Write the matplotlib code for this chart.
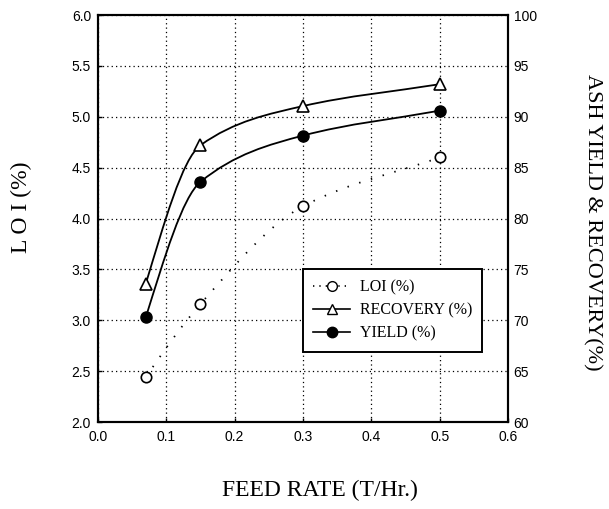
import numpy as np
import matplotlib
matplotlib.use("Agg")
import matplotlib.pyplot as plt
from matplotlib.path import Path
from matplotlib.patches import PathPatch
from matplotlib.lines import Line2D


# =========================================================
# DATA
# =========================================================
feed_rate = [0.07, 0.15, 0.30, 0.50]          # T/Hr.
loi = [2.44, 3.16, 4.12, 4.60]                # %, left axis
recovery = [73.6, 87.2, 91.05, 93.2]          # %, right axis
yield_ = [70.3, 83.6, 88.15, 90.6]            # %, right axis

x_ticks = [0.0, 0.1, 0.2, 0.3, 0.4, 0.5, 0.6]
loi_ticks = [2.0, 2.5, 3.0, 3.5, 4.0, 4.5, 5.0, 5.5, 6.0]
ash_ticks = [60, 65, 70, 75, 80, 85, 90, 95, 100]

SANS = "Liberation Sans"
SERIF = "Liberation Serif"


# =========================================================
# HELPERS
# =========================================================
def pchip_slopes(x, y):
    """Fritsch-Carlson slopes; last knot uses the last secant."""
    x = np.asarray(x, float)
    y = np.asarray(y, float)
    h = np.diff(x)
    d = np.diff(y) / h
    m = np.zeros_like(y)
    for k in range(1, len(x) - 1):
        if d[k - 1] * d[k] <= 0:
            m[k] = 0.0
        else:
            w1 = 2 * h[k] + h[k - 1]
            w2 = h[k] + 2 * h[k - 1]
            m[k] = (w1 + w2) / (w1 / d[k - 1] + w2 / d[k])
    m[0] = ((2 * h[0] + h[1]) * d[0] - h[0] * d[1]) / (h[0] + h[1])
    m[-1] = d[-1]
    return m


def smooth_path(x, y):
    """Cubic Bezier path through the data points (Hermite form)."""
    m = pchip_slopes(x, y)
    verts = [(x[0], y[0])]
    codes = [Path.MOVETO]
    for k in range(len(x) - 1):
        h = x[k + 1] - x[k]
        verts += [
            (x[k] + h / 3, y[k] + m[k] * h / 3),
            (x[k + 1] - h / 3, y[k + 1] - m[k + 1] * h / 3),
            (x[k + 1], y[k + 1]),
        ]
        codes += [Path.CURVE4] * 3
    return Path(verts, codes)


def add_curve(ax, x, y, **kw):
    patch = PathPatch(smooth_path(x, y), facecolor="none",
                      edgecolor="black", transform=ax.transData, **kw)
    ax.add_patch(patch)


# =========================================================
# PLOT
# =========================================================
fig = plt.figure(figsize=(6.09, 5.09), dpi=100)
ax = fig.add_axes([0.1609, 0.1709, 0.6732, 0.7996])
ax2 = ax.twinx()

ax.set_xlim(0.0, 0.6)
ax.set_ylim(2.0, 6.0)
ax2.set_ylim(60, 100)

ax.set_xticks(x_ticks)
ax.set_xticklabels([f"{v:.1f}" for v in x_ticks])
ax.set_yticks(loi_ticks)
ax.set_yticklabels([f"{v:.1f}" for v in loi_ticks])
ax2.set_yticks(ash_ticks)
ax2.set_yticklabels([str(v) for v in ash_ticks])

ax.grid(True, color="black", linestyle=(0, (1, 2.5)), linewidth=0.9)

for a in (ax, ax2):
    for sp in a.spines.values():
        sp.set_linewidth(1.5)
    for lab in a.get_xticklabels() + a.get_yticklabels():
        lab.set_fontfamily(SANS)
        lab.set_fontsize(10)

ax.tick_params(axis="x", direction="in", length=3, width=1, pad=6)
ax.tick_params(axis="y", direction="in", length=3, width=1, pad=5)
ax2.tick_params(axis="y", direction="in", length=0, width=1, pad=4)

# LOI: dotted smooth curve with open circles
add_curve(ax, feed_rate, loi, linewidth=1.3, linestyle=(0, (0.8, 6)))
ax.plot(feed_rate, loi, linestyle="none", marker="o", markersize=7.5,
        markerfacecolor="white", markeredgecolor="black",
        markeredgewidth=1.2, zorder=5)

# Recovery / yield: solid smooth curves
add_curve(ax2, feed_rate, recovery, linewidth=1.3)
ax2.plot(feed_rate, recovery, linestyle="none", marker="^", markersize=8,
         markerfacecolor="white", markeredgecolor="black",
         markeredgewidth=1.2, zorder=5)
add_curve(ax2, feed_rate, yield_, linewidth=1.3)
ax2.plot(feed_rate, yield_, linestyle="none", marker="o", markersize=8,
         markerfacecolor="black", markeredgecolor="black", zorder=5)

handles = [
    Line2D([], [], color="black", linestyle=(0, (0.8, 3)), linewidth=1.2,
           marker="o", markersize=7, markerfacecolor="white",
           markeredgecolor="black"),
    Line2D([], [], color="black", linestyle="-", linewidth=1.2,
           marker="^", markersize=7.5, markerfacecolor="white",
           markeredgecolor="black"),
    Line2D([], [], color="black", linestyle="-", linewidth=1.2,
           marker="o", markersize=7.5, markerfacecolor="black",
           markeredgecolor="black"),
]
leg = ax2.legend(handles, ["LOI (%)", "RECOVERY (%)", "YIELD (%)"],
                 loc="upper left", bbox_to_anchor=(0.5, 0.376),
                 prop={"family": SERIF, "size": 11.5},
                 frameon=True, fancybox=False, edgecolor="black",
                 framealpha=1.0, borderpad=0.65, labelspacing=0.45,
                 handlelength=2.3, handletextpad=0.6, borderaxespad=0)
leg.get_frame().set_linewidth(1.4)

fig.text(0.036, 0.593, "L O I (%)", rotation=90, ha="center", va="center",
         family=SERIF, fontsize=17)
fig.text(0.973, 0.564, "ASH YIELD & RECOVERY(%)", rotation=270,
         ha="center", va="center", family=SERIF, fontsize=16)
fig.text(0.525, 0.037, "FEED RATE (T/Hr.)", ha="center", va="center",
         family=SERIF, fontsize=17)

fig.savefig("out.png", dpi=100)
